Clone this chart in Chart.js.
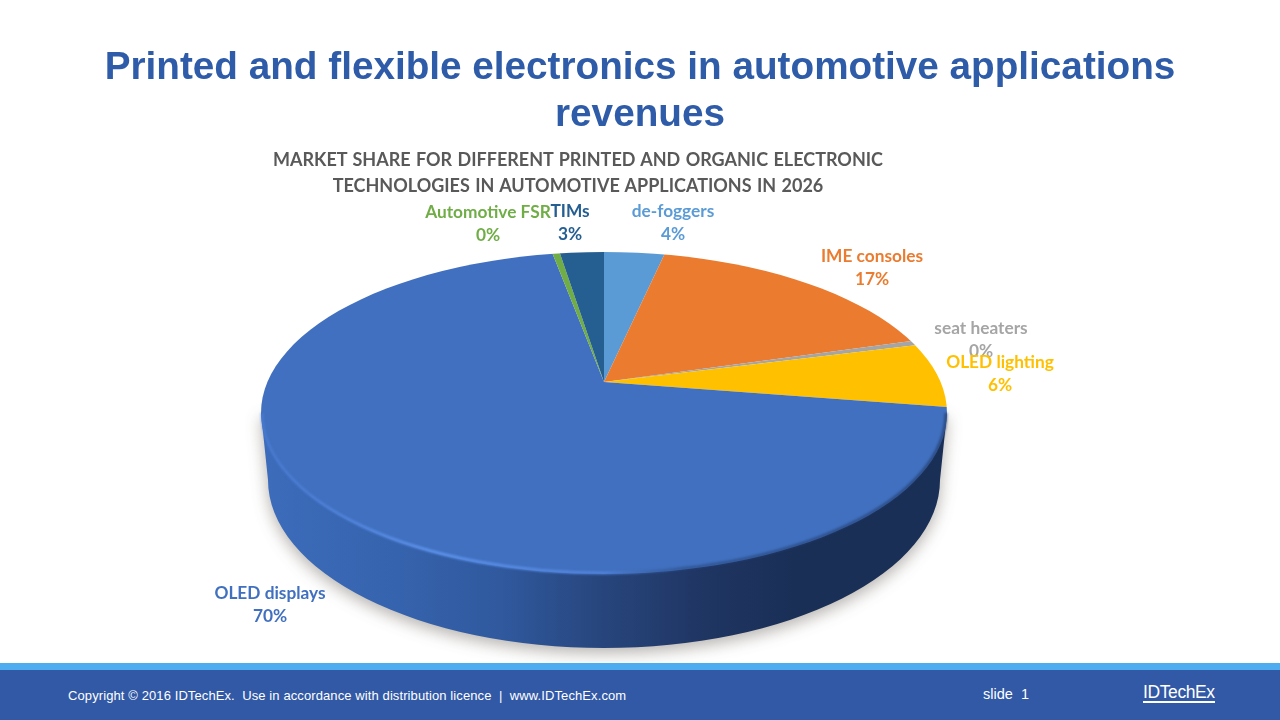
<!DOCTYPE html>
<html lang="en">
<head>
  <meta charset="UTF-8" />
  <title>Printed and flexible electronics in automotive applications revenues</title>
  <script src="https://cdn.jsdelivr.net/npm/chart.js"></script>
  <style>
    html, body { margin: 0; padding: 0; background: #fff; }
    body { position: relative; width: 1280px; height: 720px; overflow: hidden; font-family: 'Liberation Sans', Arial, sans-serif; }
    canvas { position: absolute; left: 0; top: 0; }
    h1 {
      position: absolute; left: 0; top: 42px; width: 1280px; margin: 0;
      text-align: center; color: #2f5ca8; font-size: 38.7px; line-height: 47px; font-weight: bold;
    }
    h2 {
      position: absolute; left: 178px; top: 146px; width: 800px; margin: 0;
      text-align: center; color: #595959; font: bold 18px/26px 'Lato', sans-serif;
      word-spacing: 1px;
    }
    .stripe { position: absolute; left: 0; top: 663px; width: 1280px; height: 7px; background: #4dabf0; }
    .footer { position: absolute; left: 0; top: 670px; width: 1280px; height: 50px; background: #3159a6; color: #fff; }
    .footer span { position: absolute; white-space: pre; }
    .copyright { left: 68px; top: 18px; font-size: 13px; letter-spacing: 0.1px; }
    .slide { left: 983px; top: 16px; font-size: 14.5px; }
    .logo { left: 1143px; top: 14px; font-size: 17.5px; letter-spacing: -0.4px; border-bottom: 2px solid #fff; line-height: 17px; }
  </style>
</head>
<body>
  <canvas id="pie" width="1280" height="720"></canvas>
  <h1>Printed and flexible electronics in automotive applications<br>revenues</h1>
  <h2>MARKET SHARE FOR DIFFERENT PRINTED AND ORGANIC ELECTRONIC<br>TECHNOLOGIES IN AUTOMOTIVE APPLICATIONS IN 2026</h2>
  <div class="stripe"></div>
  <div class="footer">
    <span class="copyright">Copyright © 2016 IDTechEx.  Use in accordance with distribution licence  |  www.IDTechEx.com</span>
    <span class="slide">slide  1</span>
    <span class="logo">IDTechEx</span>
  </div>

  <script>
    const categories = ["de-foggers", "IME consoles", "seat heaters", "OLED lighting", "OLED displays", "Automotive FSR", "TIMs"];
    const shares = [3.7, 17.15, 0.45, 6, 69.55, 0.45, 2.7];
    const colors = ["#5b9bd5", "#ea7b2f", "#a5a5a5", "#ffc000", "#4070bf", "#70ad47", "#255e91"];

    // label centres relative to the pie apex
    const labelOffsets = [[69, -159], [268, -114], [377, -42], [396, -8], [-334, 223], [-116, -158], [-34, -159]];

    // the look of the 3d disc, relative to the apex
    const face = { rx: 343, ry: 161, drop: 31, squash: 0.5, zoom: 1.4 };
    const wall = { height: 67, rx: 336, ry: 168 };

    function traceFace(ctx, arc) {
      ctx.beginPath();
      ctx.ellipse(arc.x, arc.y + face.drop, face.rx, face.ry, 0, 0, Math.PI * 2);
    }

    const disc3d = {
      id: "disc3d",
      beforeDatasetsDraw(chart) {
        const ctx = chart.ctx;
        const arc = chart.getDatasetMeta(0).data[0];
        const cy = arc.y + face.drop;
        const grad = ctx.createLinearGradient(arc.x - face.rx, 0, arc.x + face.rx, 0);
        grad.addColorStop(0, "#3c6cbb");
        grad.addColorStop(0.2, "#3663ad");
        grad.addColorStop(0.35, "#30599e");
        grad.addColorStop(0.5, "#27457c");
        grad.addColorStop(0.65, "#1f3562");
        grad.addColorStop(0.78, "#1a2f56");
        grad.addColorStop(1, "#1a2f56");

        ctx.save();
        ctx.shadowColor = "rgba(60,50,40,0.38)";
        ctx.shadowBlur = 16;
        ctx.shadowOffsetY = 5;
        ctx.fillStyle = grad;
        ctx.beginPath();
        ctx.moveTo(arc.x - face.rx, cy);
        ctx.lineTo(arc.x + face.rx, cy);
        ctx.lineTo(arc.x + wall.rx, cy + wall.height);
        ctx.ellipse(arc.x, cy + wall.height, wall.rx, wall.ry, 0, 0, Math.PI);
        ctx.closePath();
        ctx.fill();
        ctx.restore();
      },
      beforeDatasetDraw(chart) {
        const ctx = chart.ctx;
        const arc = chart.getDatasetMeta(0).data[0];
        ctx.save();
        traceFace(ctx, arc);
        ctx.clip();
        // wedges are oversized and cut by the face, so the apex can sit off centre
        ctx.translate(arc.x, arc.y);
        ctx.scale(face.zoom, face.zoom * face.squash);
        ctx.translate(-arc.x, -arc.y);
      },
      afterDatasetDraw(chart) {
        const ctx = chart.ctx;
        const arc = chart.getDatasetMeta(0).data[0];
        ctx.restore();

        // bevel along the front rim
        const rim = ctx.createLinearGradient(arc.x - face.rx, 0, arc.x + face.rx, 0);
        rim.addColorStop(0, "rgba(80,130,220,0.5)");
        rim.addColorStop(0.25, "rgba(95,148,238,0.95)");
        rim.addColorStop(0.5, "rgba(85,135,225,0.8)");
        rim.addColorStop(0.62, "rgba(40,70,125,0.6)");
        rim.addColorStop(1, "rgba(30,50,90,0.6)");
        ctx.save();
        ctx.beginPath();
        ctx.rect(arc.x - face.rx - 4, arc.y + face.drop - 4, face.rx * 2 + 8, face.ry + 12);
        ctx.clip();
        ctx.filter = "blur(1px)";
        ctx.strokeStyle = rim;
        ctx.lineWidth = 3;
        ctx.beginPath();
        ctx.ellipse(arc.x, arc.y + face.drop, face.rx - 1, face.ry - 1, 0, 0, Math.PI);
        ctx.stroke();
        ctx.restore();
      },
      afterDraw(chart) {
        const ctx = chart.ctx;
        const arc = chart.getDatasetMeta(0).data[0];
        ctx.save();
        ctx.font = "bold 17.3px 'Lato', sans-serif";
        ctx.textAlign = "center";
        ctx.textBaseline = "middle";
        categories.forEach((name, i) => {
          const x = arc.x + labelOffsets[i][0];
          const y = arc.y + labelOffsets[i][1];
          ctx.fillStyle = colors[i];
          ctx.fillText(name, x, y - 11.5);
          ctx.fillText(Math.round(shares[i]) + "%", x, y + 11.5);
        });
        ctx.restore();
      },
    };

    new Chart(document.getElementById("pie").getContext("2d"), {
      type: "pie",
      data: {
        labels: categories,
        datasets: [{ data: shares, backgroundColor: colors, borderWidth: 0, clip: false }],
      },
      options: {
        responsive: false,
        animation: false,
        layout: { padding: { left: 304, right: 376, top: 82, bottom: 38 } },
        plugins: { legend: { display: false }, tooltip: { enabled: false } },
      },
      plugins: [disc3d],
    });
  </script>
</body>
</html>
